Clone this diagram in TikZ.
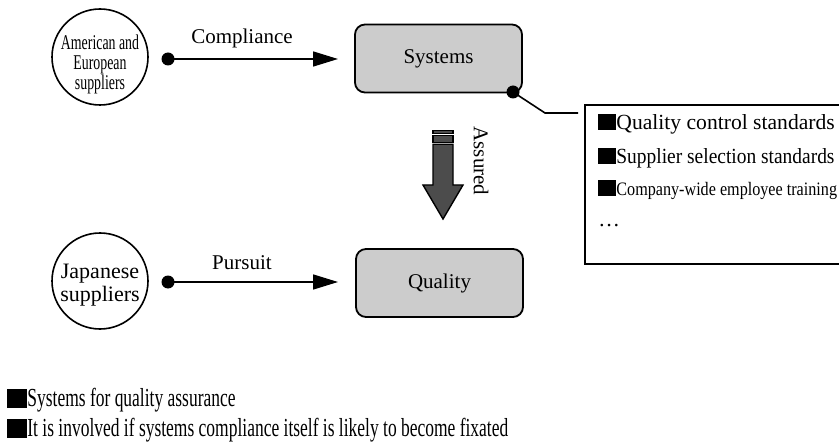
\documentclass[tikz,border=0pt]{standalone}
\usepackage{fontspec}
\setmainfont{Liberation Serif}
\newfontfamily\condA[FakeStretch=0.66]{Liberation Serif}
\newfontfamily\condB[FakeStretch=0.85]{Liberation Serif}
\newfontfamily\condC[FakeStretch=0.672]{Liberation Serif}
\newfontfamily\condD[FakeStretch=0.9]{Liberation Serif}
\usetikzlibrary{arrows.meta,calc}
\newcommand{\blksq}{\rule[-0.5pt]{9pt}{8pt}}
\newcommand{\blksqb}{\rule[-0.8pt]{10pt}{9.5pt}}
\begin{document}
\begin{tikzpicture}[x=0.5pt,y=-0.5pt,
  lbl/.style={font=\fontsize{10.5pt}{12pt}\selectfont, inner sep=0pt},
  item/.style={font=\fontsize{10.8pt}{12pt}\selectfont, inner sep=0pt, anchor=west},
  supplier/.style={circle, draw, line width=0.8pt, minimum size=48pt, inner sep=0pt},
  gbox/.style={draw, line width=0.9pt, rounded corners=5pt, fill=black!20, minimum width=83.5pt, minimum height=34pt, font=\fontsize{10.5pt}{12pt}\selectfont},
  conn/.style={line width=0.8pt, -{Triangle[length=12.5pt,width=7.5pt]}},
  dotn/.style={circle, fill, inner sep=0pt, minimum size=6.5pt},
  thin/.style={line width=0.8pt},
  bigarrow/.style={draw, line width=0.7pt, fill=black!70},
  note/.style={anchor=west, inner sep=0pt, font=\condC\fontsize{13pt}{15pt}\selectfont},
]
\useasboundingbox (0,0) rectangle (839,443);

% suppliers
\node[supplier] (am) at (100,57) {};
\node[align=center, inner sep=0pt, font=\condA\fontsize{10.5pt}{10pt}\selectfont] (amt) at (100,64) {American and\\European\\suppliers};
\node[supplier] (jp) at (100,281) {};
\node[align=center, inner sep=0pt, font=\fontsize{11pt}{11.8pt}\selectfont] (jpt) at (100,285) {Japanese\\suppliers};

% boxes
\node[gbox] (sys) at (438.5,58.5) {Systems};
\node[gbox] (qual) at (439.5,283) {Quality};

% arrows with dots
\node[dotn] (d1) at (168,59) {};
\coordinate (t1) at (338,59);
\draw[conn] (d1.center) -- (t1);
\node[lbl] (comp) at (242,38) {Compliance};

\node[dotn] (d2) at (168,282) {};
\coordinate (t2) at (338,282);
\draw[conn] (d2.center) -- (t2);
\node[lbl] (purs) at (242,263) {Pursuit};

% callout
\node[dotn] (d3) at (513,92) {};
\coordinate (k1) at (545,113);
\coordinate (k2) at (578,113);
\draw[thin] (d3.center) -- (k1) -- (k2);

\node[draw, line width=0.9pt, anchor=north west, minimum width=140pt, minimum height=79.5pt, inner sep=0pt] (lst) at (584,104) {};
\node[item] (i1) at (598,124) {\blksq Quality control standards};
\node[item, font=\condD\fontsize{10.8pt}{12pt}\selectfont] (i2) at (598,158) {\blksq Supplier selection standards};
\node[item, font=\condB\fontsize{9.5pt}{11pt}\selectfont] (i3) at (598,190) {\blksq Company-wide employee training};
\node[item] (i4) at (598,226) {\ldots};

% assured arrow
\fill[bigarrow] (433,130.7) rectangle (453,133.3);
\fill[bigarrow] (433,135.7) rectangle (453,142.3);
\path[bigarrow] (433,144.3) -- (453,144.3) -- (453,185) -- (463,185) -- (443,219) -- (423,185) -- (433,185) -- cycle;
\node[lbl, rotate=-90] (asr) at (481,161) {Assured};

% bottom notes
\node[note] (b1) at (7,400) {\blksqb Systems for quality assurance};
\node[note] (b2) at (7,430) {\blksqb It is involved if systems compliance itself is likely to become fixated};
\end{tikzpicture}
\end{document}
